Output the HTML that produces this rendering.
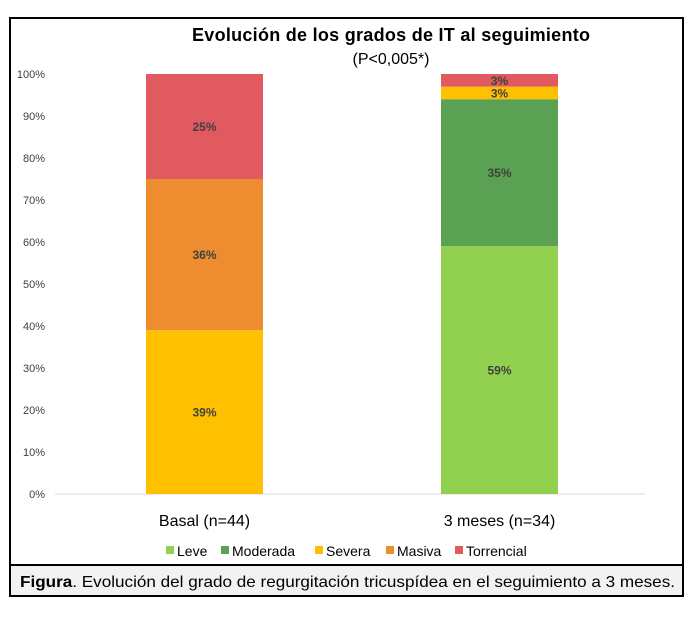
<!DOCTYPE html>
<html><head><meta charset="utf-8"><style>
body{margin:0;width:689px;height:614px;background:#fff;font-family:"Liberation Sans",sans-serif;overflow:hidden}
svg text{font-family:"Liberation Sans",sans-serif}
</style></head><body>
<svg id="c" width="689" height="614">
<rect x="10" y="18" width="673" height="578" fill="#fff" stroke="#000" stroke-width="2"/>
<rect x="11" y="565" width="671" height="30" fill="#f2f2f2"/>
<line x1="10" y1="565" x2="683" y2="565" stroke="#000" stroke-width="2"/>
<text x="391" y="41" text-anchor="middle" font-size="18" font-weight="bold" fill="#000" textLength="398">Evolución de los grados de IT al seguimiento</text>
<text x="391" y="64" text-anchor="middle" font-size="16" fill="#000">(P&lt;0,005*)</text>
<text x="20" y="587" font-size="16" fill="#000" textLength="655" lengthAdjust="spacingAndGlyphs"><tspan font-weight="bold">Figura</tspan>. Evolución del grado de regurgitación tricuspídea en el seguimiento a 3 meses.</text>
<g id="plot"></g>
</svg>
<script>
const categories=["Basal (n=44)","3 meses (n=34)"];
const seriesNames=["Leve","Moderada","Severa","Masiva","Torrencial"];
const leve=[0,59];
const moderada=[0,35];
const severa=[39,3];
const masiva=[36,0];
const torrencial=[25,3];
const yTicks=[0,10,20,30,40,50,60,70,80,90,100];
const colors=["#92d050","#5ba153","#ffc000","#ed8d30","#e05a5f"];
const series=[leve,moderada,severa,masiva,torrencial];
const NS="http://www.w3.org/2000/svg";
const g=document.getElementById("plot");
const y0=494,y1=74,xl=57,xr=647;
const ys=v=>y0-(v/100)*(y0-y1);
const bandW=(xr-xl)/categories.length;
const xc=i=>xl+bandW*(i+0.5);
const bw=117;
function el(t,a){const e=document.createElementNS(NS,t);for(const k in a)e.setAttribute(k,a[k]);g.appendChild(e);return e;}
yTicks.forEach(t=>{
 const tx=el("text",{x:45,y:ys(t)+4,"text-anchor":"end","font-size":"11",fill:"#404040"});
 tx.textContent=t+"%";
 
 
});
const base=el("line",{x1:55,x2:645,y1:y0,y2:y0,stroke:"#d9d9d9","stroke-width":1});


categories.forEach((c,i)=>{
 let cum=0;
 series.forEach((s,k)=>{
  const v=s[i]; if(!v)return;
  const top=ys(cum+v),bot=ys(cum);
  const r=el("rect",{x:xc(i)-bw/2,y:top,width:bw,height:bot-top,fill:colors[k]});
  
  
  const lb=el("text",{x:xc(i),y:(top+bot)/2+4.5,"text-anchor":"middle","font-size":"12","font-weight":"bold",fill:"#404040"});
  lb.textContent=v+"%";
  
  
  cum+=v;
 });
 const cl=el("text",{x:xc(i),y:526,"text-anchor":"middle","font-size":"16",fill:"#000"});
 cl.textContent=c;
 
 
});
const legX=[166,221,315,386,455];
seriesNames.forEach((n,k)=>{
 const sq=el("rect",{x:legX[k],y:546,width:8,height:8,fill:colors[k]});
 
 
 const t=el("text",{x:legX[k]+11,y:556,"font-size":"14",fill:"#000"});
 t.textContent=n;
 
 
});
</script>
</body></html>
